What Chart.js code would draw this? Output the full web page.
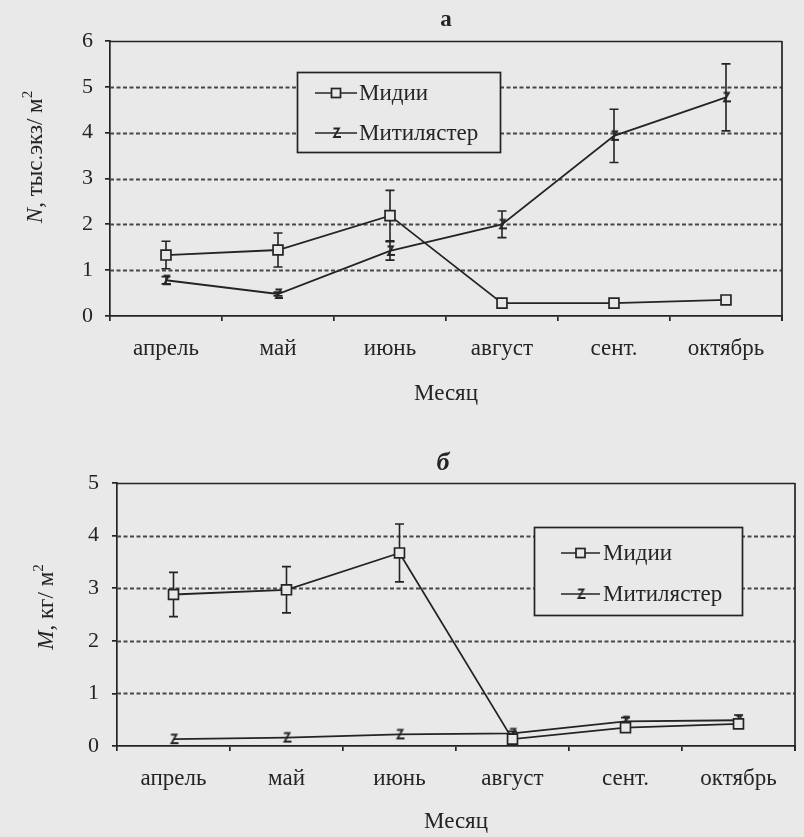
<!DOCTYPE html>
<html>
<head>
<meta charset="utf-8">
<script src="https://cdn.jsdelivr.net/npm/chart.js@4"></script>
<style>
  html, body { margin: 0; padding: 0; background: #e9e9e9; }
  #wrap { position: relative; width: 804px; height: 837px; overflow: hidden; }
  canvas { position: absolute; left: 0; }
  #ca { top: 0; }
  #cb { top: 418px; }
</style>
</head>
<body>
<div id="wrap">
  <canvas id="ca" width="804" height="418"></canvas>
  <canvas id="cb" width="804" height="419"></canvas>
</div>
<script>
// Months of sampling
const months = ['апрель', 'май', 'июнь', 'август', 'сент.', 'октябрь'];
const seriesNames = ['Мидии', 'Митилястер'];

// Panel а: density N, thousand ind./m² (mean and error)
const densityMussels      = [1.33, 1.44, 2.19, 0.28, 0.28, 0.35];
const densityMusselsErr   = [0.30, 0.37, 0.55, 0, 0, 0];
const densityMytilaster    = [0.78, 0.48, 1.42, 2.00, 3.93, 4.77];
const densityMytilasterErr = [0.08, 0.04, 0.20, 0.29, 0.58, 0.73];
const densityTicks = [0, 1, 2, 3, 4, 5, 6];

// Panel б: biomass M, kg/m² (mean and error)
const biomassMussels      = [2.88, 2.97, 3.67, 0.13, 0.35, 0.42];
const biomassMusselsErr   = [0.42, 0.44, 0.55, 0, 0, 0];
const biomassMytilaster    = [0.13, 0.16, 0.22, 0.24, 0.47, 0.49];
const biomassMytilasterErr = [0, 0, 0, 0.04, 0.07, 0.10];
const biomassTicks = [0, 1, 2, 3, 4, 5];

const INK = '#242424';
const GRID = '#474747';
const BG = '#e9e9e9';
const SERIF = "'Liberation Serif', 'Times New Roman', serif";

// Small zigzag marker used for Митилястер
function zigMarker() {
  const c = document.createElement('canvas');
  c.width = 14; c.height = 14;
  const g = c.getContext('2d');
  g.strokeStyle = INK; g.lineWidth = 1.8; g.lineJoin = 'miter';
  g.beginPath();
  g.moveTo(4.5, 2.5); g.lineTo(10, 2.5); g.lineTo(5, 11); g.lineTo(12, 11);
  g.stroke();
  return c;
}
const ZIG = zigMarker();

// Grid, frame, error bars, legend and captions
const decor = {
  id: 'decor',
  beforeDatasetsDraw(chart, args, o) {
    const { ctx, chartArea: a, scales: { y } } = chart;
    ctx.save();
    // horizontal grid: dashed inside, solid at the top
    y.ticks.forEach(t => {
      const py = Math.round(y.getPixelForValue(t.value)) + 0.5;
      if (t.value === y.min) return;
      ctx.beginPath();
      if (t.value === y.max) { ctx.setLineDash([]); ctx.strokeStyle = INK; ctx.lineWidth = 1.7; }
      else { ctx.setLineDash([4, 2.5]); ctx.strokeStyle = GRID; ctx.lineWidth = 1.8; }
      ctx.moveTo(a.left, py); ctx.lineTo(a.right, py); ctx.stroke();
    });
    // right frame line
    ctx.setLineDash([]);
    ctx.strokeStyle = INK; ctx.lineWidth = 1.7;
    ctx.beginPath(); ctx.moveTo(a.right, a.top); ctx.lineTo(a.right, a.bottom + 5); ctx.stroke();
    // error bars
    ctx.lineWidth = 1.6;
    chart.data.datasets.forEach((ds, i) => {
      const meta = chart.getDatasetMeta(i);
      ds.data.forEach((v, j) => {
        const e = ds.errors[j];
        if (!e) return;
        const x = meta.data[j].x;
        const y1 = y.getPixelForValue(v + e), y2 = y.getPixelForValue(v - e);
        ctx.beginPath();
        ctx.moveTo(x, y1); ctx.lineTo(x, y2);
        ctx.moveTo(x - 4.5, y1); ctx.lineTo(x + 4.5, y1);
        ctx.moveTo(x - 4.5, y2); ctx.lineTo(x + 4.5, y2);
        ctx.stroke();
      });
    });
    ctx.restore();
  },
  afterDraw(chart, args, o) {
    const { ctx } = chart;
    ctx.save();
    // panel letter
    ctx.fillStyle = INK;
    ctx.font = o.letterFont;
    ctx.textAlign = 'center'; ctx.textBaseline = 'middle';
    ctx.fillText(o.letter, o.letterX, o.letterY);

    // rotated y-axis caption built from styled pieces
    ctx.save();
    ctx.translate(o.yTitleX, o.yTitleY);
    ctx.rotate(-Math.PI / 2);
    ctx.textAlign = 'left'; ctx.textBaseline = 'middle';
    const fontOf = p => (p.italic ? 'italic ' : '') + (p.sup ? 15 : 23) + 'px ' + SERIF;
    let total = 0;
    o.yTitle.forEach(p => { ctx.font = fontOf(p); total += ctx.measureText(p.t).width; });
    let x = -total / 2;
    o.yTitle.forEach(p => {
      ctx.font = fontOf(p);
      ctx.fillText(p.t, x, p.sup ? -8 : 0);
      x += ctx.measureText(p.t).width;
    });
    ctx.restore();

    // legend box
    const [bx, by, bw, bh] = o.legendBox;
    ctx.fillStyle = BG;
    ctx.fillRect(bx, by, bw, bh);
    ctx.strokeStyle = INK; ctx.lineWidth = 1.7;
    ctx.strokeRect(bx + 0.5, by + 0.5, bw, bh);
    chart.data.datasets.forEach((ds, i) => {
      const ry = o.legendRows[i];
      const x0 = bx + o.legendLine[0], x1 = bx + o.legendLine[1];
      ctx.beginPath(); ctx.moveTo(x0, ry); ctx.lineTo(x1, ry);
      ctx.lineWidth = 1.7; ctx.strokeStyle = INK; ctx.stroke();
      const mx = (x0 + x1) / 2;
      if (i === 0) {
        ctx.fillStyle = BG; ctx.fillRect(mx - 4.5, ry - 4.5, 9, 9);
        ctx.strokeRect(mx - 4.5, ry - 4.5, 9, 9);
      } else {
        ctx.drawImage(ZIG, mx - 7, ry - 7);
      }
      ctx.fillStyle = INK;
      ctx.font = '23px ' + SERIF;
      ctx.textAlign = 'left'; ctx.textBaseline = 'middle';
      ctx.fillText(ds.label, bx + o.legendText, ry + 1);
    });
    ctx.restore();
  }
};

function makeChart(el, c) {
  return new Chart(el, {
    type: 'line',
    data: {
      labels: months,
      datasets: [
        { label: seriesNames[0], data: c.mussels, errors: c.musselsErr,
          borderColor: INK, borderWidth: 1.8, tension: 0,
          pointStyle: 'rect', pointRadius: 7, pointHoverRadius: 7,
          pointBackgroundColor: BG, pointBorderColor: INK, pointBorderWidth: 1.7 },
        { label: seriesNames[1], data: c.mytilaster, errors: c.mytilasterErr,
          borderColor: INK, borderWidth: 1.8, tension: 0,
          pointStyle: ZIG, pointRadius: 7, pointHoverRadius: 7 }
      ]
    },
    options: {
      responsive: false,
      animation: false,
      devicePixelRatio: 1,
      layout: { padding: { left: 0, right: c.padRight, top: c.padTop, bottom: 0 } },
      plugins: {
        legend: { display: false },
        tooltip: { enabled: false },
        decor: c.decor
      },
      scales: {
        x: {
          type: 'category',
          offset: true,
          grid: { offset: true, drawOnChartArea: false, drawTicks: true, tickLength: 5,
                  color: INK, lineWidth: 1.7 },
          border: { color: INK, width: 1.7 },
          ticks: { color: INK, font: { family: SERIF, size: 23 }, padding: c.xPad,
                   maxRotation: 0, autoSkip: false },
          title: { display: true, text: 'Месяц', color: INK,
                   font: { family: SERIF, size: 23 }, padding: { top: 0, bottom: c.titlePad } },
          afterFit(s) { s.height = c.xHeight; }
        },
        y: {
          min: 0, max: c.ticks[c.ticks.length - 1],
          afterBuildTicks(s) { s.ticks = c.ticks.map(v => ({ value: v })); },
          grid: { drawOnChartArea: false, drawTicks: true, tickLength: 5, color: INK, lineWidth: 1.7 },
          border: { color: INK, width: 1.7 },
          ticks: { color: INK, font: { family: SERIF, size: 22 }, padding: c.yPad },
          afterFit(s) { s.width = c.left; }
        }
      }
    },
    plugins: [decor]
  });
}

// Panel а — density
makeChart(document.getElementById('ca'), {
  mussels: densityMussels, musselsErr: densityMusselsErr,
  mytilaster: densityMytilaster, mytilasterErr: densityMytilasterErr,
  ticks: densityTicks,
  left: 110, padRight: 22, padTop: 41, xHeight: 102, xPad: 14, yPad: 12, titlePad: 10,
  decor: {
    letter: 'а', letterFont: 'bold 23px ' + SERIF, letterX: 446, letterY: 20,
    yTitle: [{ t: 'N', italic: true }, { t: ', тыс.экз/ м' }, { t: '2', sup: true }],
    yTitleX: 36, yTitleY: 157,
    legendBox: [297, 72, 203, 80], legendRows: [93, 133],
    legendLine: [18, 60], legendText: 62
  }
});

// Panel б — biomass
makeChart(document.getElementById('cb'), {
  mussels: biomassMussels, musselsErr: biomassMusselsErr,
  mytilaster: biomassMytilaster, mytilasterErr: biomassMytilasterErr,
  ticks: biomassTicks,
  left: 117, padRight: 9, padTop: 65, xHeight: 91, xPad: 14, yPad: 13, titlePad: 1,
  decor: {
    letter: 'б', letterFont: 'italic bold 26px ' + SERIF, letterX: 443, letterY: 45,
    yTitle: [{ t: 'M', italic: true }, { t: ', кг/ м' }, { t: '2', sup: true }],
    yTitleX: 47, yTitleY: 189,
    legendBox: [534, 109, 208, 88], legendRows: [135, 176],
    legendLine: [27, 66], legendText: 69
  }
});
</script>
</body>
</html>
